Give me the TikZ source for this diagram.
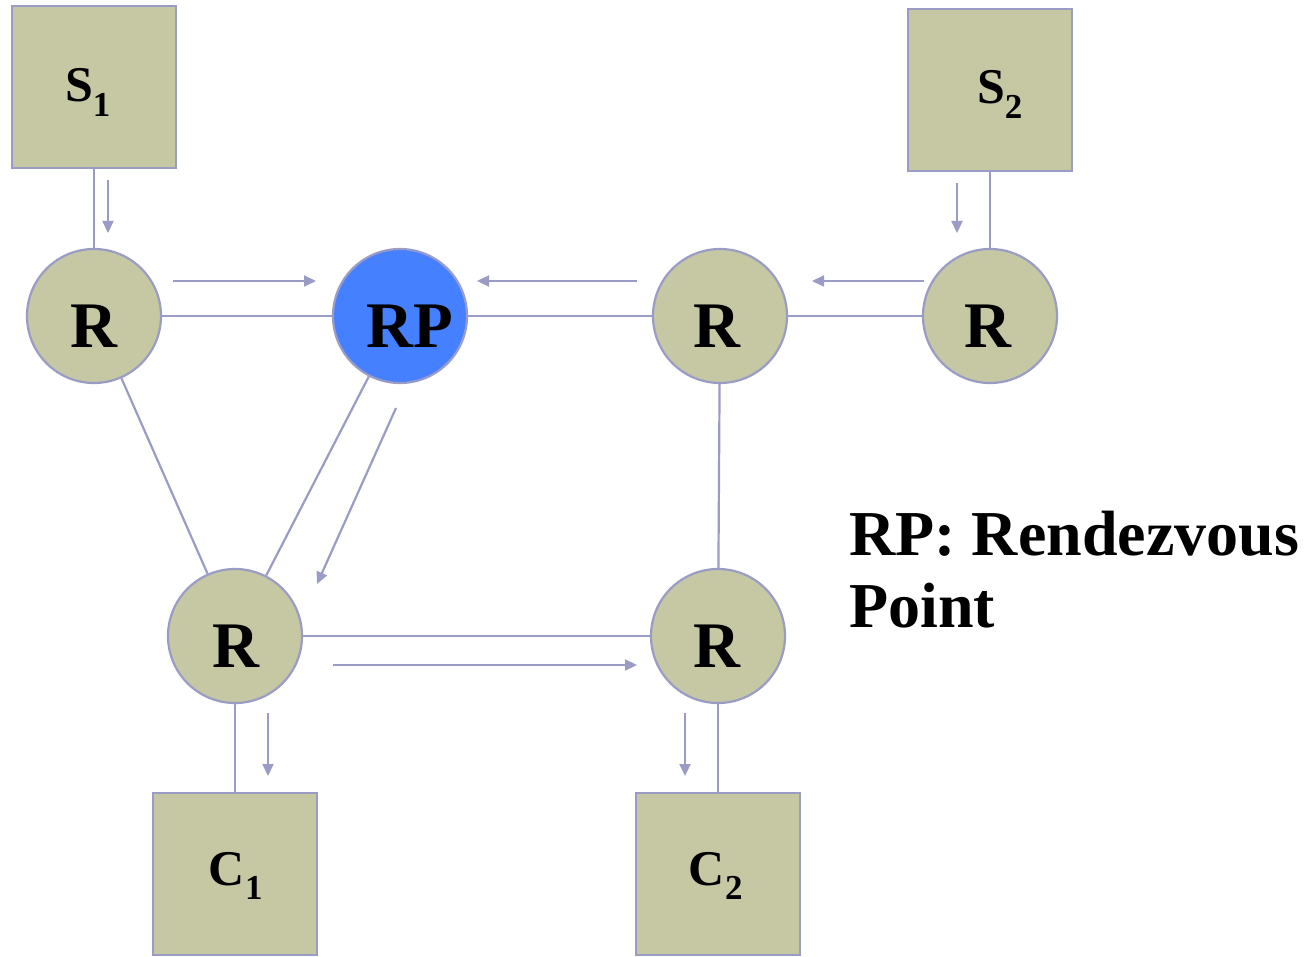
\documentclass[tikz,border=0pt]{standalone}
\usepackage{fontspec}
\setmainfont{Liberation Serif}
\usetikzlibrary{arrows.meta}
\definecolor{olive}{RGB}{197,200,163}
\definecolor{edge}{RGB}{154,156,198}
\definecolor{rpblue}{RGB}{68,128,255}
\tikzset{
  router/.style={circle, draw=edge, line width=2.2pt, fill=olive, minimum size=134pt, inner sep=0pt},
  rpnode/.style={router, fill=rpblue},
  hostbox/.style={rectangle, draw=edge, line width=2.5pt, fill=olive, minimum width=164pt, minimum height=162pt, inner sep=0pt},
  link/.style={draw=edge, line width=2.2pt},
  flow/.style={draw=edge, line width=2.2pt, -{Triangle[length=12pt,width=11pt]}},
  lbl/.style={font=\fontsize{65}{70}\selectfont\bfseries, anchor=base},
  hlbl/.style={font=\fontsize{50}{55}\selectfont\bfseries, anchor=base}
}
\begin{document}
\begin{tikzpicture}[x=1pt,y=-1pt]
\useasboundingbox (0,0) rectangle (1308,957);
% hosts
\node[hostbox] (S1) at (94,87) {};
\node[hostbox] (S2) at (990,90) {};
\node[hostbox] (C1) at (235,874) {};
\node[hostbox] (C2) at (718,874) {};
% routers
\node[router] (R1) at (94,316) {};
\node[rpnode] (RP) at (400,316) {};
\node[router] (R2) at (720,316) {};
\node[router] (R3) at (990,316) {};
\node[router] (R4) at (235,636) {};
\node[router] (R5) at (718,636) {};
% labels
\node[lbl] (tR1) at (94,347) {R};
\node[lbl] (tRP) at (410,347) {RP};
\node[lbl] (tR2) at (717,347) {R};
\node[lbl] (tR3) at (988,347) {R};
\node[lbl] (tR4) at (236,667) {R};
\node[lbl] (tR5) at (717,667) {R};
\node[hlbl] (tS1) at (88,102) {S\textsubscript{1}};
\node[hlbl] (tS2) at (1000,104) {S\textsubscript{2}};
\node[hlbl] (tC1) at (236,885) {C\textsubscript{1}};
\node[hlbl] (tC2) at (716,885) {C\textsubscript{2}};
\node[font=\fontsize{64}{72}\selectfont\bfseries, anchor=base west, align=left, inner sep=0pt] (legend) at (849,627) {RP: Rendezvous\\Point};
% links
\draw[link] (S1) -- (R1);
\draw[link] (S2) -- (R3);
\draw[link] (R1) -- (RP);
\draw[link] (RP) -- (R2);
\draw[link] (R2) -- (R3);
\draw[link] (R1) -- (R4);
\draw[link] (RP) -- (R4);
\draw[link] (R2) -- (R5);
\draw[link] (R4) -- (R5);
\draw[link] (R4) -- (C1);
\draw[link] (R5) -- (C2);
% flow arrows
\coordinate (a1s) at (108,180); \coordinate (a1e) at (108,233);
\coordinate (a2s) at (173,281); \coordinate (a2e) at (316,281);
\coordinate (a3s) at (637,281); \coordinate (a3e) at (477,281);
\coordinate (a4s) at (924,281); \coordinate (a4e) at (812,281);
\coordinate (a5s) at (957,183); \coordinate (a5e) at (957,233);
\coordinate (a6s) at (396,408); \coordinate (a6e) at (317,584);
\coordinate (a7s) at (333,665); \coordinate (a7e) at (637,665);
\coordinate (a8s) at (268,713); \coordinate (a8e) at (268,776);
\coordinate (a9s) at (685,713); \coordinate (a9e) at (685,776);
\draw[flow] (a1s) -- (a1e);
\draw[flow] (a2s) -- (a2e);
\draw[flow] (a3s) -- (a3e);
\draw[flow] (a4s) -- (a4e);
\draw[flow] (a5s) -- (a5e);
\draw[flow] (a6s) -- (a6e);
\draw[flow] (a7s) -- (a7e);
\draw[flow] (a8s) -- (a8e);
\draw[flow] (a9s) -- (a9e);
\end{tikzpicture}
\end{document}
